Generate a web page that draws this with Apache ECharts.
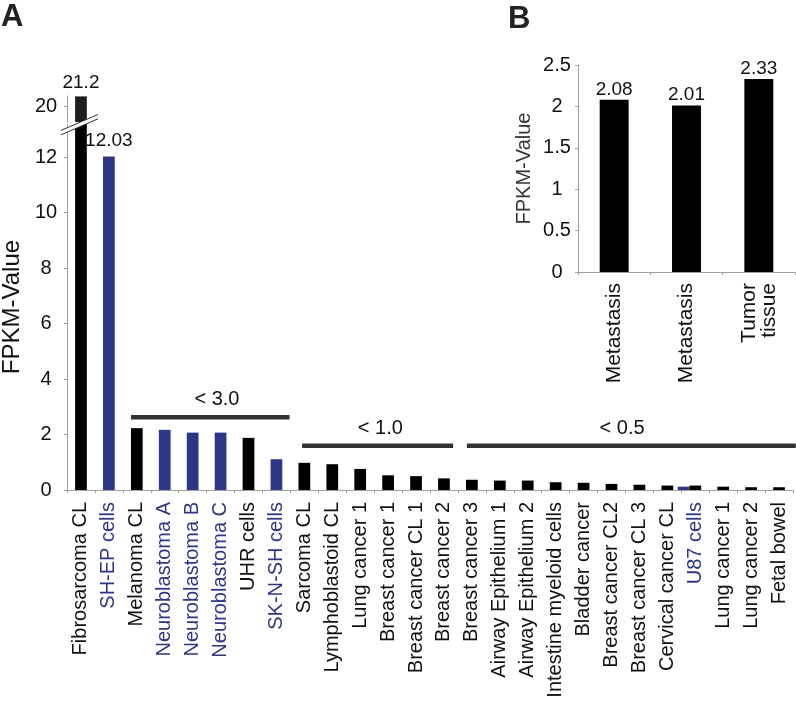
<!DOCTYPE html>
<html>
<head>
<meta charset="utf-8">
<script src="https://cdn.jsdelivr.net/npm/echarts@6/dist/echarts.min.js"></script>
<style>
  html, body { margin: 0; padding: 0; background: #fff; }
  #chart { width: 796px; height: 705px; }
</style>
</head>
<body>
<div id="chart"></div>
<script>
// ---------- data ----------
const categories = ['Fibrosarcoma CL','SH-EP cells','Melanoma CL','Neuroblastoma A','Neuroblastoma B','Neuroblastoma C','UHR cells','SK-N-SH cells','Sarcoma CL','Lymphoblastoid CL','Lung cancer 1','Breast cancer 1','Breast cancer CL 1','Breast cancer 2','Breast cancer 3','Airway Epithelium 1','Airway Epithelium 2','Intestine myeloid cells','Bladder cancer','Breast cancer CL2','Breast cancer CL 3','Cervical cancer CL','U87 cells','Lung cancer 1','Lung cancer 2','Fetal bowel'];
const blackValues = [21.2, null, 2.23, null, null, null, 1.88, null, 0.98, 0.93, 0.76, 0.53, 0.50, 0.42, 0.37, 0.34, 0.34, 0.28, 0.26, 0.22, 0.19, 0.16, 0.16, 0.12, 0.10, 0.10];
const blueValues  = [null, 12.03, null, 2.17, 2.07, 2.07, null, 1.11, null, null, null, null, null, null, null, null, null, null, null, null, null, null, null, null, null, null];
const blueCategoryIdx = [1, 3, 4, 5, 7, 22];
const u87Index = 22;
const u87BlueValue = 0.12;
const brokenIdx = [0];          // bars continuing above the axis break
const labeledLowerIdx = [1];    // bars with value labels below the break
const lowerMax = 13.2;
const upperRange = [18, 21.25];
const lowerTicks = [0, 2, 4, 6, 8, 10, 12];
const upperTicks = [20];

const groupLabels = ['< 3.0', '< 1.0', '< 0.5'];
const groupFrom   = [1.79, 7.92, 13.82];
const groupTo     = [7.47, 13.33, 25.6];
const groupLevel  = [2.62, 1.60, 1.60];
const groupTextX  = [4.87, 10.72, 19.38];
const groupTextLevel = [3.25, 2.22, 2.22];

const insetCategories = ['Metastasis', 'Metastasis', 'Tumor\ntissue'];
const insetValues = [2.08, 2.01, 2.33];

// ---------- style ----------
const FONT = '"Liberation Sans", Arial, sans-serif';
const BLUE = '#2c3787';
const AXIS = '#a0a0a0';
const TEXT = '#111';

const chart = echarts.init(document.getElementById('chart'), null, { renderer: 'canvas' });

const gridBase = { containLabel: false, outerBoundsMode: 'none' };

const option = {
  backgroundColor: '#fff',
  animation: false,
  textStyle: { fontFamily: FONT },
  grid: [
    Object.assign({ left: 67, width: 726, top: 124, height: 366 }, gridBase),  // lower main
    Object.assign({ left: 67, width: 726, top: 96, height: 26 }, gridBase),    // upper main (above break)
    Object.assign({ left: 578, width: 217, top: 65, height: 207 }, gridBase)   // inset B
  ],
  xAxis: [
    {
      gridIndex: 0, type: 'category', data: categories,
      axisLine: { lineStyle: { color: AXIS, width: 1 } },
      axisTick: { show: true, length: 3, lineStyle: { color: AXIS } },
      axisLabel: {
        rotate: 90, interval: 0, margin: 12, fontSize: 20, fontFamily: FONT,
        color: (v, i) => blueCategoryIdx.includes(i) ? BLUE : TEXT
      }
    },
    { gridIndex: 1, type: 'category', data: categories, show: false },
    {
      gridIndex: 2, type: 'category', data: insetCategories,
      axisLine: { lineStyle: { color: AXIS, width: 1 } },
      axisTick: { show: true, length: 3, lineStyle: { color: AXIS } },
      axisLabel: { rotate: 90, interval: 0, margin: 11, fontSize: 21, lineHeight: 20, fontFamily: FONT, color: TEXT }
    }
  ],
  yAxis: [
    {
      gridIndex: 0, type: 'value', min: 0, max: lowerMax, interval: 2,
      splitLine: { show: false },
      axisLine: { show: true, lineStyle: { color: AXIS } },
      axisTick: { show: true, length: 3, lineStyle: { color: AXIS }, customValues: lowerTicks },
      axisLabel: { fontSize: 20, margin: 21, align: 'center', color: TEXT, fontFamily: FONT, customValues: lowerTicks },
      name: 'FPKM-Value', nameLocation: 'middle', nameGap: 40,
      nameTextStyle: { fontSize: 24, color: TEXT, fontFamily: FONT }
    },
    {
      gridIndex: 1, type: 'value', min: upperRange[0], max: upperRange[1], interval: 2,
      splitLine: { show: false },
      axisLine: { show: true, lineStyle: { color: AXIS } },
      axisTick: { show: true, length: 3, lineStyle: { color: AXIS }, customValues: upperTicks },
      axisLabel: { fontSize: 20, margin: 21, align: 'center', color: TEXT, fontFamily: FONT, customValues: upperTicks,
        formatter: v => upperTicks.includes(v) ? String(v) : '' }
    },
    {
      gridIndex: 2, type: 'value', min: 0, max: 2.5, interval: 0.5,
      splitLine: { show: false },
      axisLine: { show: true, lineStyle: { color: AXIS } },
      axisTick: { show: true, length: 3, lineStyle: { color: AXIS } },
      axisLabel: { margin: 21, align: 'center', color: TEXT, fontSize: 20, fontFamily: FONT },
      name: 'FPKM-Value', nameLocation: 'middle', nameGap: 44,
      nameTextStyle: { fontSize: 20, color: '#333', fontFamily: FONT }
    }
  ],
  series: [
    {
      type: 'bar', xAxisIndex: 0, yAxisIndex: 0,
      data: blackValues.map((v, i) => labeledLowerIdx.includes(i) ? { value: v, label: { show: true } } : v),
      barWidth: '42%', barGap: '-100%',
      itemStyle: { color: '#000' },
      label: { show: false, position: 'top', distance: 6, fontSize: 19, color: TEXT, fontFamily: FONT }
    },
    {
      type: 'bar', xAxisIndex: 0, yAxisIndex: 0,
      data: blueValues.map((v, i) => labeledLowerIdx.includes(i) ? { value: v, label: { show: true } } : v),
      barWidth: '42%', barGap: '-100%',
      itemStyle: { color: BLUE },
      label: { show: false, position: 'top', distance: 6, fontSize: 19, color: TEXT, fontFamily: FONT }
    },
    {
      type: 'bar', xAxisIndex: 1, yAxisIndex: 1,
      data: categories.map((_, i) => brokenIdx.includes(i) ? blackValues[i] : null),
      barWidth: '42%',
      itemStyle: { color: '#1e1e1e' },
      label: { show: true, position: 'top', distance: 4, fontSize: 19, color: TEXT, fontFamily: FONT }
    },
    {
      // extra blue bar drawn next to the U87 bar
      type: 'custom', xAxisIndex: 0, yAxisIndex: 0,
      data: [[u87Index, u87BlueValue]],
      renderItem: (params, api) => {
        const top = api.coord([api.value(0), api.value(1)]);
        const base = api.coord([api.value(0), 0]);
        const bw = api.size([1, 0])[0] * 0.42;
        return {
          type: 'rect',
          shape: { x: top[0] - 1.5 * bw, y: top[1], width: bw, height: base[1] - top[1] },
          style: { fill: BLUE }
        };
      }
    },
    {
      // group brackets
      type: 'custom', xAxisIndex: 0, yAxisIndex: 0,
      data: groupLabels.map((_, i) => [Math.floor(groupFrom[i]), groupLevel[i]]),
      renderItem: (params, api) => {
        const i = params.dataIndex;
        const bw = api.size([1, 0])[0];
        const px = v => { const k = Math.floor(v); return api.coord([k, 0])[0] + (v - k) * bw; };
        const py = v => api.coord([0, v])[1];
        const y = py(groupLevel[i]);
        return {
          type: 'group',
          children: [
            { type: 'line', shape: { x1: px(groupFrom[i]), y1: y, x2: px(groupTo[i]), y2: y },
              style: { stroke: '#333', lineWidth: 4.5 } },
            { type: 'text', x: px(groupTextX[i]), y: py(groupTextLevel[i]),
              style: { text: groupLabels[i], fill: TEXT, fontSize: 20, fontFamily: FONT,
                       align: 'center', verticalAlign: 'middle' } }
          ]
        };
      }
    },
    {
      type: 'bar', xAxisIndex: 2, yAxisIndex: 2,
      data: insetValues, barWidth: '40%',
      itemStyle: { color: '#000' },
      label: { show: true, position: 'top', distance: 1, fontSize: 19, color: TEXT, fontFamily: FONT,
               formatter: p => p.value.toFixed(2) }
    }
  ]
};

chart.setOption(option);

// axis-break marks and panel letters
const c = chart.convertToPixel({ xAxisIndex: 0, yAxisIndex: 0 }, [0, lowerMax]);
const cx = c[0], cy = c[1];
const s = -0.43;
const xa = cx - 20, xb = cx + 17;
const yAt = (x, off) => cy + off + s * (x - cx);
chart.setOption({
  graphic: [
    { type: 'polygon', z: 100,
      shape: { points: [[xa, yAt(xa, -2.2)], [xb, yAt(xb, -2.2)], [xb, yAt(xb, 2.2)], [xa, yAt(xa, 2.2)]] },
      style: { fill: '#fff' } },
    { type: 'line', z: 101, shape: { x1: xa, y1: yAt(xa, -2.2), x2: xb, y2: yAt(xb, -2.2) }, style: { stroke: '#333', lineWidth: 1 } },
    { type: 'line', z: 101, shape: { x1: xa, y1: yAt(xa, 2.2), x2: xb, y2: yAt(xb, 2.2) }, style: { stroke: '#333', lineWidth: 1 } },
    { type: 'text', left: 1, top: 2, style: { text: 'A', fontSize: 31, fontWeight: 'bold', fontFamily: FONT, fill: '#222' } },
    { type: 'text', left: 508, top: 4, style: { text: 'B', fontSize: 31, fontWeight: 'bold', fontFamily: FONT, fill: '#222' } }
  ]
});
</script>
</body>
</html>
